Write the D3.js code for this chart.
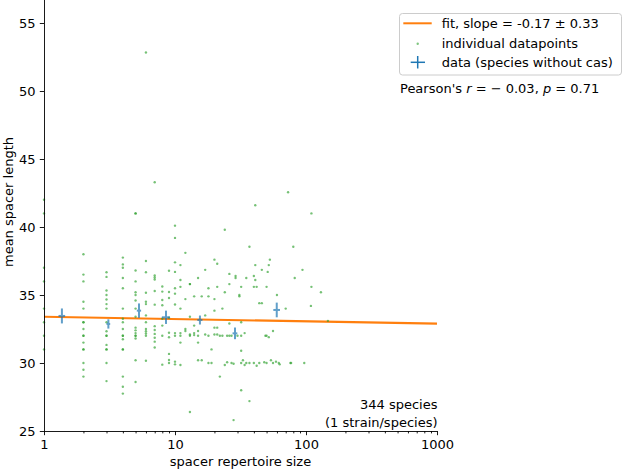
<!DOCTYPE html>
<html><head><meta charset="utf-8">
<script src="https://cdn.jsdelivr.net/npm/d3@7"></script>
<style>body{margin:0;background:#fff} svg{display:block;font-family:"DejaVu Sans",sans-serif}</style>
</head><body><svg id="c" width="624" height="471"></svg>
<script>
// ---- data ----
const columnSizes = [1, 2, 3, 4, 5, 6, 7, 8, 9, 10];
const columnLengths = [
  [42, 41, 37, 36, 34, 33, 32, 31],
  [38, 36.5, 36, 34.5, 34, 33, 33, 32.5, 32, 32, 31.5, 31, 31, 30, 29.5, 29],
  [36.67, 36.33, 35.33, 35, 34.67, 34.33, 34, 33, 32.33, 32, 32, 31.33, 31, 31, 30, 28.67],
  [37.75, 37.25, 37, 36.25, 35.5, 34, 33.25, 33, 32.5, 32, 32, 31.75, 31, 31, 29, 28.25, 27.75],
  [41, 41, 36.8, 36, 35.2, 35, 34.6, 34, 33.4, 32.6, 32.4, 32.2, 32, 32, 31.8, 30.2, 28.6],
  [52.83, 37.5, 36.67, 35.17, 34.5, 34.33, 33.5, 33, 32.5, 32.33, 32.17, 32, 30.17],
  [43.29, 36.43, 36.29, 36.14, 35.29, 34.29, 32.71, 32.43, 32.14, 31.86, 31.57, 31.14],
  [35.63, 35.25, 34.63, 34.25, 33.25, 32.75, 32, 29.88],
  [36.78, 35.22, 34.78, 33.33, 32.22, 31.89, 30.67, 30.22, 30],
  [40.1, 39.2, 37.4, 36.7, 35.5, 35.1, 34.3, 32.2, 32.0, 30.1, 29.9]
];
const scatterSizes = [73,41,110,24,12,37,80,20,21,53,41,52,11,17,46,94,26,51,29,29,40,35,15,11,41,82,13,13,26,32,40,42,50,21,18,110,11,24,16,14,18,31,31,60,12,20,130,11,23,44,46,70,109,20,17,13,26,32,20,21,14,12,12,11,11,13,13,14,14,15,15,17,18,20,21,22,23,25,26,27,30,32,34,49,50,52,56,11,15,19,32,11,15,16,18,19,24,25,27,28,32,33,34,35,37,40,42,44,48,50,54,56,59,62,63,76,77,97,147,22,32,37,13,28];
const scatterLengths = [42.55,41.6,41.0,39.8,38.1,38.55,38.55,37.6,37.3,37.6,37.2,37.2,37.2,36.85,36.85,36.85,36.55,36.7,36.4,36.25,36.4,36.25,36.25,36.1,36.1,36.25,35.8,35.8,35.8,35.6,35.6,35.6,35.6,35.6,35.5,35.6,35.6,35.2,34.9,34.9,34.9,35.0,34.9,35.0,34.7,34.7,35.2,34.0,34.0,34.4,34.4,34.0,34.2,33.85,33.5,33.4,32.9,33.0,32.6,32.6,32.75,32.5,32.35,32.2,32.0,32.1,32.0,32.2,32.05,32.35,32.0,32.1,32.0,32.1,32.1,32.0,32.0,32.0,32.0,32.0,32.0,32.0,32.2,32.0,32.0,31.9,32.35,31.5,31.5,31.0,30.9,29.85,30.2,30.2,30.0,30.0,29.85,30.05,30.0,29.95,30.0,30.2,29.85,30.0,30.0,30.0,29.8,30.0,30.05,30.0,30.2,30.0,30.1,30.0,29.9,30.0,30.0,30.0,33.1,29.0,28.0,27.2,26.4,25.8];

const binSizes = [1.37, 3.1, 5.31, 8.54, 15.5, 28.7, 59.8];
const binSizeErr = [0.08, 0.1, 0.2, 0.6, 0.7, 1.2, 3.5];
const binLengths = [33.46, 32.87, 33.85, 33.36, 33.16, 32.18, 33.9];
const binLengthErr = [0.55, 0.34, 0.53, 0.49, 0.33, 0.43, 0.54];

const fitIntercept = 33.4;
const fitSlope = -0.17;

const xTicks = [1, 10, 100, 1000];
const xTickLabels = ["1", "10", "100", "1000"];
const yTicks = [25, 30, 35, 40, 45, 50, 55];

// ---- build ----
const FS = 13;
const svg = d3.select("#c");
const x = d3.scaleLog().domain([1, 1000]).range([44, 437]);
const y = d3.scaleLinear().domain([25, 58.5]).range([431, -24.6]);

const points = [];
columnSizes.forEach((s, i) => columnLengths[i].forEach(v => points.push([s, v])));
scatterSizes.forEach((s, i) => points.push([s, scatterLengths[i]]));

// fit line
const fitXs = [1, 1000];
svg.append("path")
  .attr("d", d3.line().x(d => x(d)).y(d => y(fitIntercept + fitSlope * Math.log10(d)))(fitXs))
  .attr("stroke", "#ff7f0e").attr("stroke-width", 2.2).attr("fill", "none");

// points
svg.append("g").selectAll("circle").data(points).join("circle")
  .attr("cx", d => x(d[0])).attr("cy", d => y(d[1])).attr("r", 1.2)
  .attr("fill", "#2ca02c").attr("opacity", 0.65);

// error bars
const eb = svg.append("g").attr("stroke", "#1f77b4").attr("stroke-width", 2).attr("opacity", 0.7);
binSizes.forEach((s, i) => {
  eb.append("line").attr("x1", x(s)).attr("x2", x(s))
    .attr("y1", y(binLengths[i] - binLengthErr[i])).attr("y2", y(binLengths[i] + binLengthErr[i]));
  eb.append("line").attr("y1", y(binLengths[i])).attr("y2", y(binLengths[i]))
    .attr("x1", x(s - binSizeErr[i])).attr("x2", x(s + binSizeErr[i]));
});

// axes
const fontAttrs = g => g.attr("font-family", "DejaVu Sans, sans-serif").attr("font-size", FS);
svg.append("g").attr("transform", "translate(0,431)")
  .call(d3.axisBottom(x).tickValues(xTicks).tickFormat((d, i) => xTickLabels[i]).tickSize(4.2).tickPadding(4.2).tickSizeOuter(0))
  .call(fontAttrs);
const minor = [];
[1, 10, 100].forEach(b => { for (let k = 2; k <= 9; k++) minor.push(b * k); });
svg.append("g").attr("transform", "translate(0,431)")
  .call(d3.axisBottom(x).tickValues(minor).tickFormat("").tickSize(2.4).tickSizeOuter(0))
  .call(g => g.select(".domain").remove());
svg.append("g").attr("transform", "translate(44,0)")
  .call(d3.axisLeft(y).tickValues(yTicks).tickSize(4.2).tickPadding(4.2).tickSizeOuter(0))
  .call(fontAttrs);
svg.selectAll(".tick text").attr("fill", "#000");
svg.selectAll(".domain, .tick line").attr("stroke", "#000").attr("stroke-width", 0.9);

// axis labels
svg.append("text").attr("x", 240.5).attr("y", 466).attr("text-anchor", "middle")
  .attr("font-size", FS).text("spacer repertoire size");
svg.append("text").attr("transform", "translate(13,202) rotate(-90)").attr("text-anchor", "middle")
  .attr("font-size", FS).text("mean spacer length");

// annotation
svg.append("text").attr("x", 437.5).attr("y", 409).attr("text-anchor", "end").attr("font-size", FS).text("344 species");
svg.append("text").attr("x", 437.5).attr("y", 426.5).attr("text-anchor", "end").attr("font-size", FS).text("(1 strain/species)");

// legend
const lg = svg.append("g");
lg.append("rect").attr("x", 399.5).attr("y", 13.5).attr("width", 222).attr("height", 61.5).attr("rx", 3)
  .attr("fill", "#fff").attr("fill-opacity", 0.8).attr("stroke", "#cccccc").attr("stroke-width", 1);
lg.append("line").attr("x1", 403.3).attr("x2", 431.7).attr("y1", 23.3).attr("y2", 23.3)
  .attr("stroke", "#ff7f0e").attr("stroke-width", 2);
lg.append("circle").attr("cx", 417.7).attr("cy", 43.7).attr("r", 1.2).attr("fill", "#2ca02c").attr("opacity", 0.6);
lg.append("line").attr("x1", 410.7).attr("x2", 425).attr("y1", 62.3).attr("y2", 62.3).attr("stroke", "#1f77b4").attr("stroke-width", 1.5);
lg.append("line").attr("x1", 417.7).attr("x2", 417.7).attr("y1", 56).attr("y2", 68.5).attr("stroke", "#1f77b4").attr("stroke-width", 1.5);
const legendLabels = ["fit, slope = -0.17 \u00b1 0.33", "individual datapoints", "data (species without cas)"];
const legendBaselines = [27.8, 47.8, 66.8];
legendLabels.forEach((t, i) => lg.append("text").attr("x", 441.7).attr("y", legendBaselines[i]).attr("font-size", FS).text(t));

// Pearson
const pt = svg.append("text").attr("x", 400).attr("y", 93).attr("font-size", FS);
pt.append("tspan").text("Pearson's ");
pt.append("tspan").attr("font-style", "italic").text("r");
pt.append("tspan").text(" = \u2212 0.03,  ");
pt.append("tspan").attr("font-style", "italic").text("p");
pt.append("tspan").text(" = 0.71");
</script></body></html>
